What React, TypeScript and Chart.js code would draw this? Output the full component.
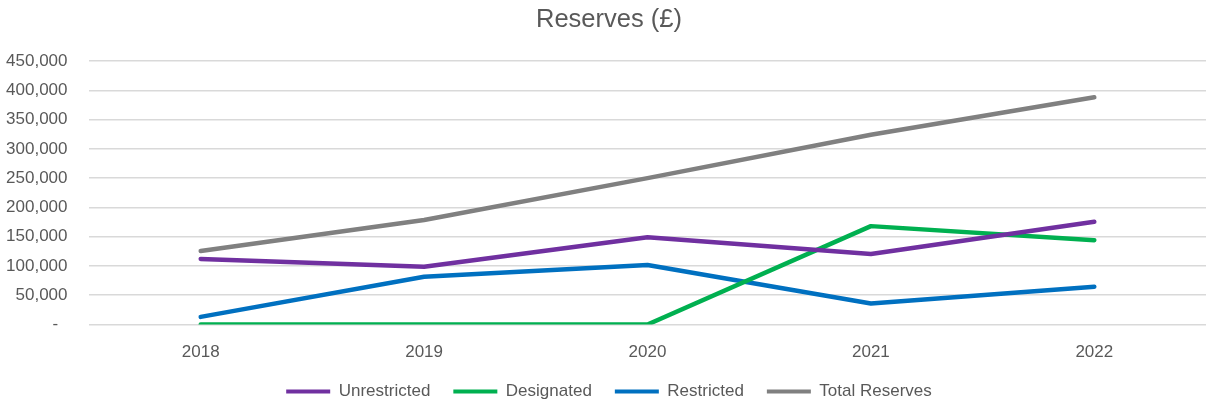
import React, { useEffect, useRef } from 'react';
import { Chart, registerables } from 'chart.js';

Chart.register(...registerables);

const years = ['2018', '2019', '2020', '2021', '2022'];
const unrestricted = [112000, 98500, 149000, 120500, 175500];
const designated = [0, 0, 0, 168000, 144000];
const restricted = [13000, 81500, 101500, 36000, 64500];
const totalReserves = [125500, 178500, 250000, 324000, 388000];
const seriesNames = ['Unrestricted', 'Designated', 'Restricted', 'Total Reserves'];
const seriesColors = ['#7030A0', '#00B050', '#0070C0', '#808080'];
const yMax = 450000;
const yStep = 50000;

const TEXT = '#595959';
const REG = "'Liberation Sans', Arial, sans-serif";

const noLabelClip = {
  id: 'noLabelClip',
  beforeDraw(chart: any) {
    const y = chart.scales.y;
    if (y) y._computeLabelArea = () => undefined;
  },
};

export default function App() {
  const ref = useRef<HTMLCanvasElement>(null);
  useEffect(() => {
    document.body.style.margin = '0';
    const values = [unrestricted, designated, restricted, totalReserves];
    const chart = new Chart(ref.current!, {
      type: 'line',
      data: {
        labels: years,
        datasets: values.map((d, i) => ({
          label: seriesNames[i],
          data: d,
          borderColor: seriesColors[i],
          backgroundColor: seriesColors[i],
          borderWidth: 4.5,
          borderCapStyle: 'round',
          borderJoinStyle: 'round',
          pointRadius: 0,
          tension: 0,
          fill: false,
        })),
      },
      plugins: [noLabelClip],
      options: {
        animation: false,
        responsive: false,
        layout: { padding: { left: 12, right: 1, top: 0, bottom: 0 } },
        plugins: {
          title: {
            display: true,
            text: 'Reserves (£)',
            color: TEXT,
            font: { family: REG, size: 25.5, weight: 'normal' },
            padding: { top: 4.5, bottom: 25.9 },
          },
          legend: {
            position: 'bottom',
            labels: {
              boxWidth: 44,
              boxHeight: 4,
              padding: 23,
              color: TEXT,
              font: { family: REG, size: 17 },
              generateLabels: (c: any) =>
                (Chart.defaults.plugins.legend.labels as any)
                  .generateLabels(c)
                  .map((l: any) => ({ ...l, lineWidth: 0, fillStyle: l.strokeStyle })),
            },
          },
          tooltip: { enabled: false },
        },
        scales: {
          x: {
            offset: true,
            grid: { display: false, drawTicks: false },
            border: { display: false },
            ticks: { color: TEXT, font: { family: REG, size: 17 }, padding: 17.5 },
            afterFit: (s: any) => {
              s.height = 35.5;
            },
          },
          y: {
            min: 0,
            max: yMax,
            grid: { color: '#d9d9d9', lineWidth: 1.5, drawTicks: false },
            border: { display: false },
            ticks: {
              stepSize: yStep,
              color: TEXT,
              font: { family: REG, size: 17 },
              padding: 21.5,
              callback: (v: any) => (Number(v) === 0 ? '-  ' : Number(v).toLocaleString('en-GB')),
            },
            afterFit: (s: any) => {
              s.width = 77;
            },
          },
        },
      } as any,
    });
    return () => chart.destroy();
  }, []);
  return (
    <div style={{ width: 1207, height: 405, overflow: 'hidden' }}>
      <canvas ref={ref} width={1207} height={410} style={{ display: 'block' }} />
    </div>
  );
}
